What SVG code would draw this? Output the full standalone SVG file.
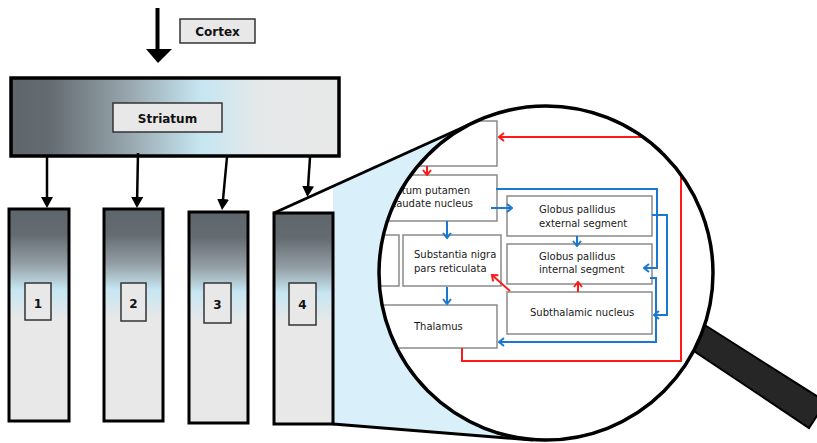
<svg xmlns="http://www.w3.org/2000/svg" width="817" height="443" viewBox="0 0 817 443">
  <style>
    .lbl{fill:#e8e8e8;stroke:#333;stroke-width:1.5}
    .lt{font-family:"DejaVu Sans",Verdana,sans-serif;font-weight:bold;font-size:12px;fill:#111;text-anchor:middle}
    .col{stroke:#000;stroke-width:3;fill:url(#colGrad)}
    .arr{stroke:#000;stroke-width:2.5;fill:none;marker-end:url(#blk)}
    .box{fill:#fff;stroke:#8a8a8a;stroke-width:1.5}
    .bt{font-family:"DejaVu Sans",Verdana,sans-serif;font-size:10px;fill:#1a1a1a}
    .red{stroke:#ff1a1a;stroke-width:2;fill:none;marker-end:url(#rh)}
    .blue{stroke:#1a78d0;stroke-width:2;fill:none;marker-end:url(#bh)}
    .edge{stroke:#000;stroke-width:3;fill:none}
  </style>
  <defs>
    <linearGradient id="barGrad" x1="0" y1="0" x2="1" y2="0">
      <stop offset="0" stop-color="#5e666b"/>
      <stop offset="0.12" stop-color="#646c71"/>
      <stop offset="0.36" stop-color="#98a7ae"/>
      <stop offset="0.58" stop-color="#c6e6f2"/>
      <stop offset="0.76" stop-color="#e5e8e9"/>
      <stop offset="1" stop-color="#e8e8e8"/>
    </linearGradient>
    <linearGradient id="colGrad" x1="0" y1="0" x2="0" y2="1">
      <stop offset="0" stop-color="#5e666b"/>
      <stop offset="0.12" stop-color="#646c71"/>
      <stop offset="0.26" stop-color="#949fa5"/>
      <stop offset="0.38" stop-color="#c6e6f2"/>
      <stop offset="0.52" stop-color="#e8e8e8"/>
      <stop offset="1" stop-color="#e8e8e8"/>
    </linearGradient>
    <marker id="blk" markerUnits="userSpaceOnUse" viewBox="0 0 11 12" refX="8" refY="6" markerWidth="11" markerHeight="12" orient="auto">
      <path d="M0,0L11,6L0,12z" fill="#000"/>
    </marker>
    <marker id="rh" markerUnits="userSpaceOnUse" viewBox="-7 -5 8 10" refX="0" refY="0" markerWidth="8" markerHeight="10" orient="auto">
      <path d="M-5,-4L0,0L-5,4" fill="none" stroke="#ff1a1a" stroke-width="2"/>
    </marker>
    <marker id="bh" markerUnits="userSpaceOnUse" viewBox="-7 -5 8 10" refX="0" refY="0" markerWidth="8" markerHeight="10" orient="auto">
      <path d="M-5,-4L0,0L-5,4" fill="none" stroke="#1a78d0" stroke-width="2"/>
    </marker>
    <clipPath id="lens">
      <circle cx="546" cy="273" r="166"/>
    </clipPath>
  </defs>

  <!-- magnifier handle, behind the lens -->
  <polygon points="689,315 826,402 809,428 679,341" fill="#262626" stroke="#000" stroke-width="2"/>

  <!-- projection cone from column 4 to the lens -->
  <polygon points="333,186 477,121 546,273 533,440 333,424" fill="#d9f0fb"/>
  <line class="edge" x1="274" y1="213" x2="477" y2="121"/>
  <line class="edge" x1="333" y1="424" x2="533" y2="440"/>

  <!-- lens -->
  <circle cx="546" cy="273" r="167" fill="#fff"/>

  <g clip-path="url(#lens)">
    <g id="lens-cortex"><rect class="box" x="379" y="121" width="118" height="45"/></g>
    <g id="lens-striatum">
      <rect class="box" x="379" y="175" width="118" height="46"/>
      <text class="bt" x="470" y="194.3" text-anchor="end">Striatum putamen</text>
      <text class="bt" x="473" y="207.3" text-anchor="end">caudate nucleus</text>
    </g>
    <g id="lens-left"><rect class="box" x="330" y="235" width="69" height="51"/></g>
    <g id="lens-snr">
      <rect class="box" x="403" y="235" width="98" height="51"/>
      <text class="bt" x="414" y="258.3">Substantia nigra</text>
      <text class="bt" x="414" y="271.7">pars reticulata</text>
    </g>
    <g id="lens-gpe">
      <rect class="box" x="507" y="196" width="145" height="40"/>
      <text class="bt" x="539" y="212.7">Globus pallidus</text>
      <text class="bt" x="539" y="226.7">external segment</text>
    </g>
    <g id="lens-gpi">
      <rect class="box" x="507" y="244" width="145" height="40"/>
      <text class="bt" x="539" y="260">Globus pallidus</text>
      <text class="bt" x="539" y="273.3">internal segment</text>
    </g>
    <g id="lens-stn">
      <rect class="box" x="507" y="292" width="145" height="42"/>
      <text class="bt" x="530" y="316">Subthalamic nucleus</text>
    </g>
    <g id="lens-thalamus">
      <rect class="box" x="379" y="305" width="118" height="43"/>
      <text class="bt" x="414" y="330">Thalamus</text>
    </g>

    <g id="lens-connectors">
      <path class="red" d="M462,348V361H681V137H499"/>
      <path class="red" d="M427,166V175"/>
      <path class="red" d="M578,292V282"/>
      <path class="red" d="M510,291L492,275"/>
      <path class="blue" d="M491,208H512"/>
      <path class="blue" d="M447,221V238"/>
      <path class="blue" d="M496,189H657V268H644"/>
      <path class="blue" d="M652,215H667V315H654"/>
      <path class="blue" d="M577,236V246"/>
      <path class="blue" d="M650,278H656V342H499"/>
      <path class="blue" d="M447,287V304"/>
    </g>
  </g>
  <circle cx="546" cy="273" r="167" fill="none" stroke="#000" stroke-width="3.5"/>

  <!-- cortex input -->
  <g id="cortex">
    <line x1="157.5" y1="8" x2="157.5" y2="50" stroke="#000" stroke-width="4"/>
    <polygon points="146,49 172,49 158,63" fill="#000"/>
    <rect class="lbl" x="180" y="19" width="75" height="24"/>
    <text class="lt" x="217.5" y="36">Cortex</text>
  </g>

  <!-- striatum bar -->
  <g id="striatum">
    <rect x="11" y="78" width="328" height="78" fill="url(#barGrad)" stroke="#000" stroke-width="3.5"/>
    <rect class="lbl" x="113" y="103" width="109" height="29"/>
    <text class="lt" x="167.5" y="123">Striatum</text>
  </g>

  <g id="connectors">
    <path class="arr" d="M47,157L47,205"/>
    <path class="arr" d="M138,153L137,205"/>
    <path class="arr" d="M227,157L222.3,207"/>
    <path class="arr" d="M310,157L307.6,194"/>
  </g>

  <g id="col1">
    <rect class="col" x="9" y="209" width="60" height="212"/>
    <rect class="lbl" x="25" y="283" width="26" height="37"/>
    <text class="lt" x="38" y="308">1</text>
  </g>
  <g id="col2">
    <rect class="col" x="104" y="209" width="59" height="212"/>
    <rect class="lbl" x="121" y="283" width="25" height="38"/>
    <text class="lt" x="133.5" y="308">2</text>
  </g>
  <g id="col3">
    <rect class="col" x="189" y="212" width="59" height="211"/>
    <rect class="lbl" x="204" y="283" width="27" height="40"/>
    <text class="lt" x="217.5" y="309">3</text>
  </g>
  <g id="col4">
    <rect class="col" x="274" y="213" width="59" height="211"/>
    <rect class="lbl" x="289" y="283" width="27" height="42"/>
    <text class="lt" x="302.5" y="309">4</text>
  </g>
</svg>
